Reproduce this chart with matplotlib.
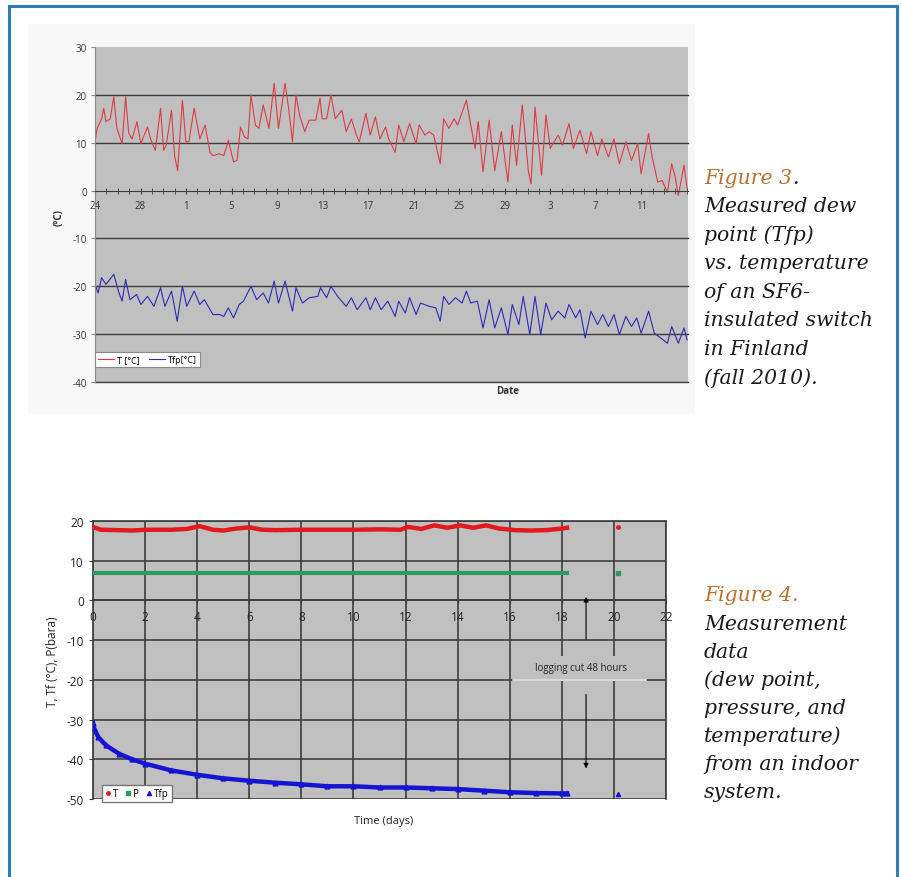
import numpy as np
import matplotlib
matplotlib.use("Agg")
import matplotlib.pyplot as plt
from matplotlib.patches import Rectangle
from matplotlib.lines import Line2D


##### Figure 3 : fall 2010, days counted from Aug 24 #####
t_days = [0.0, 0.19, 0.58, 0.77, 0.96, 1.34, 1.65, 1.92, 2.38, 2.69, 2.96, 3.26, 3.69, 4.03,
          4.61, 4.88, 5.30, 5.76, 6.03, 6.26, 6.72, 6.99, 7.26, 7.68, 7.98, 8.25, 8.71, 9.21,
          9.67, 10.10, 10.36, 10.94, 11.32, 11.71, 12.17, 12.48, 12.78, 13.13, 13.44, 13.70,
          14.09, 14.40, 14.78, 15.28, 15.74, 16.12, 16.70, 17.01, 17.35, 17.66, 17.97, 18.43,
          18.81, 19.39, 19.77, 19.96, 20.35, 20.73, 21.11, 21.69, 22.07, 22.53, 22.96, 23.22,
          23.80, 24.18, 24.64, 25.03, 25.53, 25.80, 26.37, 26.68, 27.14, 27.64, 28.21, 28.48,
          28.98, 29.37, 29.75, 30.33, 30.63, 31.09, 31.55, 31.86, 32.63, 33.01, 33.40, 33.67,
          34.09, 34.63, 35.12, 35.70, 36.28, 36.66, 37.04, 37.54, 38.08, 38.31, 38.66, 39.23,
          39.62, 40.00, 40.69, 41.07, 41.65, 42.03, 42.61, 43.19, 43.57, 44.15, 44.53, 45.11,
          45.60, 46.07, 46.64, 47.14, 47.68, 47.98, 48.64, 48.95, 49.44, 49.83, 50.29, 50.67,
          50.98, 51.25, 51.75, 52.02]
t_vals = [10.2, 13.0, 15.0, 17.2, 14.4, 15.0, 19.6, 13.0, 9.8, 19.6, 12.0, 10.8, 14.4, 9.8,
          13.3, 10.8, 8.4, 17.2, 8.4, 9.5, 16.8, 7.3, 4.2, 18.9, 10.2, 10.2, 17.2, 10.8,
          13.7, 8.0, 7.3, 7.7, 7.3, 10.5, 6.0, 6.3, 13.3, 11.2, 10.8, 20.0,
          13.7, 13.0, 17.9, 13.0, 22.4, 13.0, 22.4, 17.2, 10.2, 20.0, 15.8, 12.3,
          14.7, 14.7, 19.3, 15.0, 15.0, 20.0, 15.0, 16.8, 12.3, 15.0, 11.6, 10.2,
          16.1, 11.6, 15.4, 10.8, 13.3, 10.8, 8.0, 13.7, 10.2, 14.0, 9.8, 13.7,
          11.6, 12.3, 11.6, 5.6, 15.0, 13.0, 15.0, 13.7, 18.9, 13.7, 8.8, 14.4,
          3.9, 14.7, 4.2, 12.3, 1.8, 13.7, 5.3, 17.9, 3.9, 1.4, 17.5, 3.2,
          15.8, 8.8, 11.6, 9.5, 14.0, 8.8, 12.6, 7.7, 12.3, 7.3, 10.8, 7.0,
          10.8, 5.6, 10.2, 6.3, 9.8, 3.5, 11.9, 7.0, 1.8, 2.1, -0.4, 5.6,
          2.8, -1.0, 5.3, 0.4]

tfp_days = [0.0, 0.27, 0.58, 0.96, 1.65, 2.11, 2.38, 2.69, 3.07, 3.65, 4.03, 4.61, 5.18, 5.76,
            6.14, 6.72, 7.22, 7.68, 8.06, 8.71, 9.21, 9.60, 10.36, 10.94, 11.32, 11.71, 12.17,
            12.67, 13.05, 13.70, 14.20, 14.78, 15.24, 15.74, 16.12, 16.70, 17.35, 17.66, 18.23,
            18.81, 19.58, 19.81, 20.35, 20.73, 21.31, 22.07, 22.53, 23.03, 23.80, 24.18, 24.64,
            25.14, 25.72, 26.37, 26.68, 27.26, 27.64, 28.21, 28.60, 29.37, 29.94, 30.33, 30.63,
            31.09, 31.67, 32.25, 32.63, 33.01, 33.59, 34.09, 34.63, 35.12, 35.70, 36.28, 36.66,
            37.24, 37.62, 38.20, 38.66, 39.16, 39.62, 40.12, 40.69, 41.27, 41.65, 42.23, 42.61,
            43.07, 43.57, 44.15, 44.61, 45.11, 45.60, 46.07, 46.64, 47.14, 47.60, 47.98, 48.64,
            49.14, 49.71, 50.29, 50.67, 51.25, 51.75, 52.02]
tfp_vals = [-19.6, -21.4, -18.2, -19.6, -17.5, -21.4, -23.1, -18.6, -22.8, -21.7, -23.8, -22.1,
            -24.2, -20.3, -24.2, -21.0, -27.3, -20.0, -24.2, -21.0, -23.8, -22.8, -25.9, -25.9,
            -26.3, -24.5, -26.6, -23.8, -23.1, -20.0, -22.8, -21.4, -23.5, -18.9, -23.5, -18.9,
            -25.2, -20.3, -23.5, -22.4, -22.1, -20.3, -22.4, -20.0, -22.1, -24.2, -22.4, -24.9,
            -22.4, -24.9, -22.4, -24.9, -23.1, -26.3, -23.1, -25.6, -22.4, -25.9, -23.5, -24.2,
            -24.5, -27.3, -22.1, -23.8, -22.4, -23.5, -21.0, -23.5, -23.1, -28.7, -22.8, -28.7,
            -24.5, -30.1, -23.8, -28.0, -22.1, -30.1, -22.1, -30.1, -23.5, -27.0, -25.2, -26.6,
            -23.8, -26.6, -24.9, -30.8, -25.2, -28.0, -25.9, -28.4, -25.9, -30.1, -26.3, -28.4,
            -26.6, -29.8, -25.2, -29.8, -30.8, -31.9, -28.4, -31.9, -28.7, -31.2]

fig3_tick_labels = ["24", "28", "1", "5", "9", "13", "17", "21", "25", "29", "3", "7", "11"]

##### Figure 4 : indoor system #####
temp_days = [0.0, 0.3, 1.0, 1.5, 2.0, 3.0, 3.6, 4.1, 4.6, 5.0, 5.5, 6.0, 6.5, 7.0, 8.0, 9.0,
             10.0, 11.0, 11.8, 12.1, 12.6, 13.1, 13.6, 14.1, 14.6, 15.1, 15.6, 16.2, 16.8,
             17.4, 18.0, 18.2]
temp_vals = [18.5, 17.8, 17.7, 17.6, 17.8, 17.8, 18.0, 18.7, 17.8, 17.6, 18.1, 18.4, 17.8,
             17.7, 17.8, 17.8, 17.8, 17.9, 17.8, 18.5, 18.0, 18.9, 18.3, 18.9, 18.3, 18.9,
             18.1, 17.7, 17.6, 17.7, 18.1, 18.3]
p_days = [0.0, 4.0, 8.0, 12.0, 16.0, 18.2]
p_vals = [7.0, 7.0, 7.0, 7.0, 7.0, 7.0]
tfp4_days = [0.0, 0.05, 0.2, 0.5, 1.0, 1.5, 2.0, 3.0, 4.0, 5.0, 6.0, 7.0, 8.0, 9.0, 10.0,
             11.0, 12.0, 13.0, 14.0, 15.0, 16.0, 17.0, 18.0, 18.2]
tfp4_vals = [-30.8, -32.3, -34.4, -36.5, -38.6, -40.0, -41.1, -42.8, -43.9, -44.8, -45.4,
             -45.9, -46.3, -46.8, -46.8, -47.1, -47.1, -47.3, -47.5, -47.9, -48.3, -48.5,
             -48.6, -48.6]
# single reading after the 48 h logging gap
after_day = [20.16]
after_T = [18.5]
after_P = [7.0]
after_Tfp = [-48.7]

W, H = 903, 878
GRAY = "#c0c0c0"
GRID = "#3c3c3c"
ORANGE = "#b8722f"
plt.rcParams["font.family"] = ["Open Sans", "DejaVu Sans"]
plt.rcParams["axes.unicode_minus"] = False

fig = plt.figure(figsize=(W / 100, H / 100), dpi=100)
fig.patch.set_facecolor("white")

# faint chart area behind figure 3
fig.patches.append(Rectangle((28 / W, 1 - 415 / H), 667 / W, 390 / H, transform=fig.transFigure,
                             facecolor="#f8f8f8", edgecolor="none", zorder=-5))

# page frame
frame_c = "#2f7db3"
fig.add_artist(Line2D([9.5 / W, 9.5 / W], [0, 1 - 7 / H], transform=fig.transFigure, color=frame_c, lw=2.2))
fig.add_artist(Line2D([897.5 / W, 897.5 / W], [0, 1 - 7 / H], transform=fig.transFigure, color=frame_c, lw=2.2))
fig.add_artist(Line2D([9.5 / W, 897.5 / W], [1 - 7 / H, 1 - 7 / H], transform=fig.transFigure, color=frame_c, lw=2.2))

##### chart figure 3 #####
ax1 = fig.add_axes([95 / W, 1 - 383 / H, 593 / W, 335 / H])
ax1.set_zorder(2)
ax1.set_facecolor(GRAY)
ax1.plot(t_days, t_vals, color="#df3a42", lw=0.8)
ax1.plot(tfp_days, tfp_vals, color="#2b2bb8", lw=0.8)
ax1.set_xlim(0, 52.1)
ax1.set_ylim(-40, 30)
for yv in [20, 10, -10, -20, -30, -40]:
    ax1.axhline(yv, color=GRID, lw=1.0, zorder=1, clip_on=False)
ax1.spines["bottom"].set_position(("data", 0))
ax1.spines["bottom"].set_color(GRID)
ax1.spines["left"].set_color("#8a8a8a")
ax1.spines["top"].set_visible(False)
ax1.spines["right"].set_visible(False)
ax1.set_xticks(np.arange(0, 49, 4))
ax1.set_xticklabels(fig3_tick_labels)
ax1.set_xticks(np.arange(0, 53, 1), minor=True)
ax1.tick_params(axis="x", which="both", direction="inout", length=4, color=GRID, labelsize=7,
                labelcolor="#333333", pad=5)
ax1.set_yticks(np.arange(-40, 31, 10))
ax1.tick_params(axis="y", length=3, color="#8a8a8a", labelsize=7, labelcolor="#333333", pad=3)
leg1 = ax1.legend([Line2D([], [], color="#df3a42", lw=0.8), Line2D([], [], color="#2b2bb8", lw=0.8)],
                  ["T [°C]", "Tfp[°C]"], loc="lower left", bbox_to_anchor=(0.0, 0.045), ncol=2,
                  fontsize=6.5, handlelength=1.8, handletextpad=0.3, columnspacing=1.0,
                  borderpad=0.35, borderaxespad=0, fancybox=False, framealpha=1)
leg1.get_frame().set_edgecolor("#8a8a8a")
leg1.get_frame().set_linewidth(0.8)
fig.text(59 / W, 1 - 218 / H, "(°C)", rotation=90, ha="center", va="center", fontsize=7,
         color="#333333", fontweight="bold")
fig.text(508 / W, 1 - 392 / H, "Date", ha="center", va="center", fontsize=7, color="#333333",
         fontweight="bold")

##### chart figure 4 #####
ax2 = fig.add_axes([93 / W, 1 - 800 / H, 573 / W, 278 / H])
ax2.set_zorder(2)
ax2.set_facecolor(GRAY)
ax2.set_xlim(0, 22)
ax2.set_ylim(-50, 20)
ax2.set_xticks(np.arange(0, 23, 2))
ax2.set_yticks(np.arange(-50, 21, 10))
ax2.grid(True, color=GRID, lw=1.2)
for s in ["top", "right", "left"]:
    ax2.spines[s].set_color(GRID)
    ax2.spines[s].set_linewidth(1.2)
ax2.spines["bottom"].set_position(("data", 0))
ax2.spines["bottom"].set_color(GRID)
ax2.spines["bottom"].set_linewidth(1.2)
ax2.tick_params(axis="both", length=3, color=GRID, labelsize=8.5, labelcolor="#222222")
ax2.tick_params(axis="x", pad=4)

ax2.plot(temp_days, temp_vals, color="#e3191c", lw=3.2, zorder=3)
ax2.plot(p_days, p_vals, color="#2f9a5c", lw=3.0, zorder=3)
ax2.plot(tfp4_days, tfp4_vals, color="#1414d2", lw=3.2, marker="^", ms=3.5, zorder=3)
ax2.plot(after_day, after_T, "o", color="#e3191c", ms=2.5, zorder=3)
ax2.plot(after_day, after_P, "s", color="#2f9a5c", ms=2.8, zorder=3)
ax2.plot(after_day, after_Tfp, "^", color="#1414d2", ms=3, zorder=3)

# logging gap note
ax2.add_patch(Rectangle((16.13, -20.35), 5.12, 6.35, facecolor=GRAY, edgecolor="none", zorder=2))
ax2.plot([16.13, 21.25], [-20, -20], color="#dedede", lw=1.2, zorder=2.1)
ax2.text(18.73, -16.8, "logging cut 48 hours", ha="center", va="center", fontsize=7,
         color="#222222", zorder=4)
ax2.annotate("", xy=(18.93, 1.6), xytext=(18.93, -10.5),
             arrowprops=dict(arrowstyle="-|>", color="black", lw=0.8, mutation_scale=7), zorder=4)
ax2.annotate("", xy=(18.93, -43.0), xytext=(18.93, -23.0),
             arrowprops=dict(arrowstyle="-|>", color="black", lw=0.8, mutation_scale=7), zorder=4)

leg2 = ax2.legend([Line2D([], [], ls="none", marker="o", color="#e3191c", ms=2.5),
                   Line2D([], [], ls="none", marker="s", color="#2f9a5c", ms=2.8),
                   Line2D([], [], ls="none", marker="^", color="#1414d2", ms=3)],
                  ["T", "P", "Tfp"], loc="lower left", bbox_to_anchor=(0.016, -0.012), ncol=3,
                  fontsize=7, handlelength=0.6, handletextpad=0.2, columnspacing=0.7,
                  borderpad=0.35, borderaxespad=0, fancybox=False, framealpha=1)
leg2.get_frame().set_edgecolor("#777777")
leg2.set_zorder(5)
fig.text(53 / W, 1 - 662 / H, "T, Tf (°C), P(bara)", rotation=90, ha="center", va="center",
         fontsize=8.5, color="#222222")
fig.text(384 / W, 1 - 822 / H, "Time (days)", ha="center", va="center", fontsize=8,
         color="#222222")

##### captions #####
cap_font = dict(family="DejaVu Serif", style="italic", fontsize=14.7, va="center", ha="left")
cap3 = ["Measured dew", "point (Tfp)", "vs. temperature", "of an SF6-", "insulated switch",
        "in Finland", "(fall 2010)."]
t3 = fig.text(704 / W, 1 - 178 / H, "Figure 3", color=ORANGE, **cap_font)
fig.canvas.draw()
bb = t3.get_window_extent()
fig.text(bb.x1 / W, 1 - 178 / H, ".", color="#1a1a1a", **cap_font)
for i, line in enumerate(cap3):
    fig.text(704 / W, 1 - (178 + 28.6 * (i + 1)) / H, line, color="#1a1a1a", **cap_font)

cap4 = ["Measurement", "data", "(dew point,", "pressure, and", "temperature)", "from an indoor",
        "system."]
fig.text(704 / W, 1 - 596 / H, "Figure 4.", color=ORANGE, **cap_font)
for i, line in enumerate(cap4):
    fig.text(704 / W, 1 - (596 + 28.1 * (i + 1)) / H, line, color="#1a1a1a", **cap_font)

fig.savefig("out.png", dpi=100)
